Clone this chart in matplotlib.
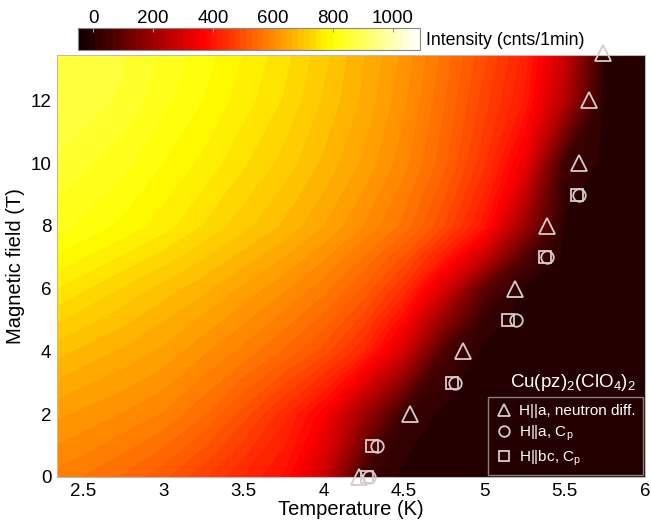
import numpy as np
import matplotlib
matplotlib.use("Agg")
import matplotlib.pyplot as plt

plt.rcParams['font.family'] = ['Liberation Sans', 'DejaVu Sans']

# intensity map (cnts/1min), rows = field, columns = temperature
temps = [2.35, 2.75, 3.0, 3.25, 3.5, 3.75, 4.0, 4.25, 4.5, 4.75, 5.0, 5.25, 5.5, 5.75, 6.0]
fields = [0, 2, 4, 5, 6, 7, 8, 10, 12, 13.5]
intensity = [
    [580, 545, 515, 475, 430, 390, 280, 40, 0, 0, 0, 0, 0, 0, 0],
    [630, 605, 585, 550, 500, 440, 360, 200, 30, 0, 0, 0, 0, 0, 0],
    [690, 660, 640, 610, 580, 545, 500, 430, 290, 60, 0, 0, 0, 0, 0],
    [725, 690, 665, 640, 610, 578, 540, 480, 375, 180, 20, 0, 0, 0, 0],
    [760, 720, 695, 670, 640, 610, 575, 525, 445, 300, 90, 0, 0, 0, 0],
    [795, 758, 733, 705, 675, 645, 610, 565, 505, 410, 270, 70, 0, 0, 0],
    [825, 795, 770, 740, 710, 680, 645, 605, 560, 490, 400, 200, 0, 0, 0],
    [855, 825, 800, 775, 745, 715, 680, 640, 595, 535, 455, 340, 40, 0, 0],
    [875, 855, 825, 800, 770, 740, 700, 660, 610, 550, 480, 410, 240, 0, 0],
    [870, 860, 835, 810, 780, 750, 710, 665, 620, 560, 495, 425, 280, 10, 0],
]

# phase boundary points
tri_T = [4.22, 4.54, 4.865, 5.19, 5.39, 5.59, 5.65, 5.74]
tri_H = [0, 2, 4, 6, 8, 10, 12, 13.5]
circ_T = [4.28, 4.33, 4.815, 5.2, 5.39, 5.59]
circ_H = [0, 1, 3, 5, 7, 9]
sq_T = [4.27, 4.30, 4.80, 5.15, 5.38, 5.58]
sq_H = [0, 1, 3, 5, 7, 9]

fig = plt.figure(figsize=(6.51, 5.23), dpi=100)
ax = fig.add_axes([0.0876, 0.088, 0.903, 0.807])

levels = np.linspace(-50, 1090, 60)
cs = ax.contourf(temps, fields, np.array(intensity), levels=levels, cmap='hot',
                 vmin=-50, vmax=1090)

mcol = '#d4cccc'
ax.plot(tri_T, tri_H, linestyle='none', marker='^', markersize=11, markerfacecolor='none',
        markeredgecolor=mcol, markeredgewidth=1.3, clip_on=False, zorder=5,
        label='H||a, neutron diff.')
ax.plot(circ_T, circ_H, linestyle='none', marker='o', markersize=9, markerfacecolor='none',
        markeredgecolor=mcol, markeredgewidth=1.3, clip_on=False, zorder=5,
        label='H||a, C$_\\mathregular{p}$')
ax.plot(sq_T, sq_H, linestyle='none', marker='s', markersize=8, markerfacecolor='none',
        markeredgecolor=mcol, markeredgewidth=1.3, clip_on=False, zorder=5,
        label='H||bc, C$_\\mathregular{p}$')

ax.set_xlim(2.34, 6.0)
ax.set_ylim(0, 13.45)
ax.set_xticks([2.5, 3, 3.5, 4, 4.5, 5, 5.5, 6])
ax.set_xticklabels(['2.5', '3', '3.5', '4', '4.5', '5', '5.5', '6'])
ax.set_yticks([0, 2, 4, 6, 8, 10, 12])
ax.tick_params(direction='in', labelsize=13.5, length=0, pad=4)
ax.set_xlabel('Temperature (K)', fontsize=14.5, labelpad=0)
ax.set_ylabel('Magnetic field (T)', fontsize=14.5, labelpad=4)
for sp in ax.spines.values():
    sp.set_color('#bbbbbb')
    sp.set_linewidth(0.8)

leg = ax.legend(loc='lower right', bbox_to_anchor=(1.0, 0.0), borderaxespad=0.15,
                fontsize=11, frameon=True, facecolor='none', edgecolor='#888080',
                framealpha=1, fancybox=False, handletextpad=0.4, borderpad=0.45,
                labelspacing=0.35, handlelength=1.2, markerscale=0.85)
for t in leg.get_texts():
    t.set_color('white')

ax.text(0.985, 0.2, 'Cu(pz)$_\\mathregular{2}$(ClO$_\\mathregular{4}$)$_\\mathregular{2}$',
        transform=ax.transAxes, color='white', fontsize=13.5, ha='right', va='bottom')

cax = fig.add_axes([0.12, 0.904, 0.525, 0.042])
cb = fig.colorbar(cs, cax=cax, orientation='horizontal', ticks=[0, 200, 400, 600, 800, 1000])
cb.ax.xaxis.set_ticks_position('top')
cb.ax.tick_params(labelsize=13.5, direction='in', length=3, color='#999999', pad=1)
cb.outline.set_edgecolor('#888888')
cb.outline.set_linewidth(0.8)
cax.set_xlim(-50, 1090)
fig.text(0.655, 0.923, 'Intensity (cnts/1min)', fontsize=12.8, va='center', ha='left')

fig.savefig('out.png', dpi=100)
